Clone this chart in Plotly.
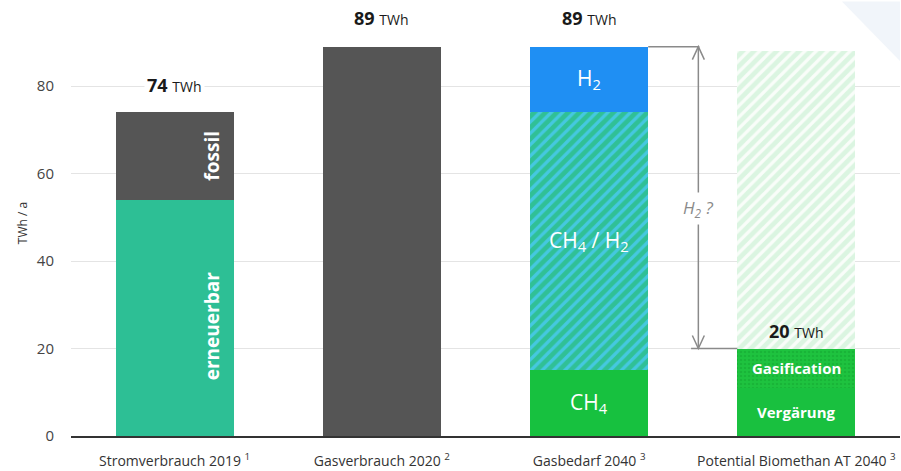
import plotly.graph_objects as go

# Categories and tick labels
categories = ["Stromverbrauch 2019", "Gasverbrauch 2020", "Gasbedarf 2040", "Potential Biomethan AT 2040"]
tick_labels = [
    "Stromverbrauch 2019 <sup>1</sup>",
    "Gasverbrauch 2020 <sup>2</sup>",
    "Gasbedarf 2040 <sup>3</sup>",
    "Potential Biomethan AT 2040 <sup>3</sup>",
]

# Segment values in TWh/a (None = segment not present in that column)
erneuerbar = [54, None, None, None]
fossil = [20, None, None, None]
gasverbrauch = [None, 89, None, None]
ch4 = [None, None, 15, None]
ch4_h2 = [None, None, 59, None]
h2 = [None, None, 15, None]
vergaerung = [None, None, None, 11]
gasification = [None, None, None, 9]
potential_rest = [None, None, None, 68]

y_ticks = [0, 20, 40, 60, 80]

FONT = "Open Sans"
BAR_W = 0.57


def v(x):
    return x or 0


totals = [sum(v(s[i]) for s in (erneuerbar, fossil, gasverbrauch, ch4, ch4_h2, h2)) for i in range(4)]
biomethan_total = v(vergaerung[3]) + v(gasification[3])
gasbedarf_total = totals[2]

fig = go.Figure()


def add_bar(vals, color, pattern=None, name=""):
    marker = dict(color=color, line=dict(width=0))
    if pattern:
        marker["pattern"] = pattern
    fig.add_trace(go.Bar(x=categories, y=vals, width=BAR_W, marker=marker,
                         name=name, showlegend=False, hoverinfo="y"))


add_bar(erneuerbar, "#2dbf95", name="erneuerbar")
add_bar(fossil, "#555555", name="fossil")
add_bar(gasverbrauch, "#555555", name="Gasverbrauch")
add_bar(ch4, "#17c13f", name="CH4")
add_bar(ch4_h2, "#3ec6dc",
        pattern=dict(shape="/", fgcolor="#1bb84c", bgcolor="#45c8e0", size=8, solidity=0.6),
        name="CH4 / H2")
add_bar(h2, "#1f8ff3", name="H2")
add_bar(vergaerung, "#19c03f", name="Vergärung")
add_bar(gasification, "#1dbd3c",
        pattern=dict(shape=".", fgcolor="#14a532", bgcolor="#1ec33f", size=4, solidity=0.35),
        name="Gasification")
add_bar(potential_rest, "#ffffff",
        pattern=dict(shape="/", fgcolor="#bdedc9", bgcolor="#f9fdf9", size=8, solidity=0.6),
        name="Potential")

annotations = []


def total_label(xi, total, yshift):
    annotations.append(dict(
        x=categories[xi], y=total, yanchor="bottom", yshift=yshift, showarrow=False,
        text=f"<b>{total:g}</b> <span style='font-size:14px'>TWh</span>",
        font=dict(family=FONT, size=18, color="#1a1a1a"), bgcolor="#ffffff", borderpad=2,
    ))


total_label(0, totals[0], 12)
total_label(1, totals[1], 14)
total_label(2, totals[2], 14)
annotations.append(dict(
    x=categories[3], y=biomethan_total, yanchor="bottom", yshift=4, showarrow=False,
    text=f"<b>{biomethan_total:g}</b> <span style='font-size:14px'>TWh</span>",
    font=dict(family=FONT, size=18, color="#1a1a1a"),
))


def seg_mid(series_list, idx, k):
    base = sum(v(s[idx]) for s in series_list[:k])
    return base + v(series_list[k][idx]) / 2


# Rotated labels in the first column
strom = [erneuerbar, fossil]
for k, txt in ((0, "erneuerbar"), (1, "fossil")):
    annotations.append(dict(
        x=categories[0], y=seg_mid(strom, 0, k) - (2 if k == 0 else 0), xshift=37, textangle=-90,
        showarrow=False, text=f"<b>{txt}</b>",
        font=dict(family=FONT, size=19, color="#ffffff"),
    ))

# Labels inside the Gasbedarf column
gasb = [ch4, ch4_h2, h2]
for k, txt in ((0, "CH<sub>4</sub>"), (1, "CH<sub>4</sub> / H<sub>2</sub>"), (2, "H<sub>2</sub>")):
    annotations.append(dict(
        x=categories[2], y=seg_mid(gasb, 2, k), showarrow=False, text=txt,
        font=dict(family=FONT, size=21, color="#ffffff"),
    ))

# Labels inside the Biomethan column
bio = [vergaerung, gasification]
for k, txt in ((0, "Vergärung"), (1, "Gasification")):
    annotations.append(dict(
        x=categories[3], y=seg_mid(bio, 3, k), showarrow=False, text=f"<b>{txt}</b>",
        font=dict(family=FONT, size=15, color="#ffffff"),
    ))

# Bracket showing the open hydrogen share
arrow_x = 2.527
bar3_right = 2 + BAR_W / 2
bar4_left = 3 - BAR_W / 2
gray = "#8a8a8a"
shapes = [
    dict(type="line", xref="x", yref="y", x0=bar3_right, x1=arrow_x + 0.005,
         y0=gasbedarf_total, y1=gasbedarf_total, line=dict(color=gray, width=1.5)),
    dict(type="line", xref="x", yref="y", x0=arrow_x - 0.035, x1=bar4_left,
         y0=biomethan_total, y1=biomethan_total, line=dict(color=gray, width=1.5)),
    dict(type="line", xref="x", yref="y", x0=arrow_x, x1=arrow_x,
         y0=biomethan_total, y1=gasbedarf_total, line=dict(color=gray, width=1.5)),
    dict(type="path", xref="x", yref="y", xsizemode="pixel", ysizemode="pixel",
         xanchor=arrow_x, yanchor=gasbedarf_total, path="M -6 -13 L 0 0 L 6 -13",
         line=dict(color=gray, width=1.5)),
    dict(type="path", xref="x", yref="y", xsizemode="pixel", ysizemode="pixel",
         xanchor=arrow_x, yanchor=biomethan_total, path="M -6 13 L 0 0 L 6 13",
         line=dict(color=gray, width=1.5)),
    # faint corner decoration
    dict(type="path", xref="paper", yref="paper", layer="below",
         path="M 0.93 1.02 L 1.0 1.02 L 1.0 0.88 Z", fillcolor="#f1f5fa", line=dict(width=0)),
]
annotations.append(dict(
    x=arrow_x, y=52, showarrow=False, text="<i>H<sub>2</sub> ?</i>",
    font=dict(family=FONT, size=17, color="#8a8a8a"), bgcolor="#ffffff", borderpad=3,
))

fig.update_layout(
    width=901, height=471,
    margin=dict(l=71, r=1, t=10, b=35),
    barmode="stack", bargap=0.43,
    plot_bgcolor="#ffffff", paper_bgcolor="#ffffff",
    font=dict(family=FONT, color="#333333"),
    annotations=annotations, shapes=shapes,
    xaxis=dict(
        tickmode="array", tickvals=categories, ticktext=tick_labels,
        tickfont=dict(family=FONT, size=14, color="#333333"),
        showline=True, linecolor="#333333", linewidth=2, showgrid=False,
        ticks="", ticklabelstandoff=11, range=[-0.5, 3.5],
    ),
    yaxis=dict(
        range=[0, 426 / 4.375], tickvals=y_ticks,
        tickfont=dict(family=FONT, size=15, color="#444444"),
        showgrid=True, gridcolor="#e4e4e4", gridwidth=1, zeroline=False,
        showline=False, ticks="", ticklabelstandoff=16,
        title=dict(text="TWh / a", font=dict(family=FONT, size=12, color="#333333"), standoff=6),
    ),
)

fig.write_html("out.html")
